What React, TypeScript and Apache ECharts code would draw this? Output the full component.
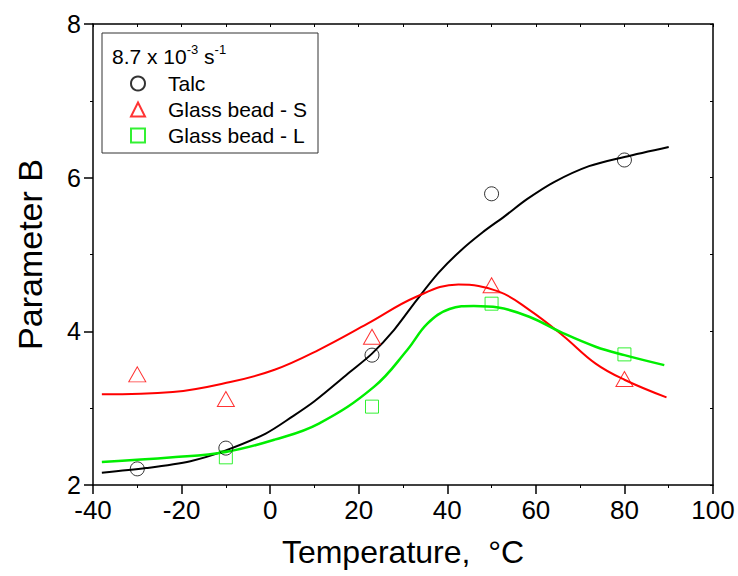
import React, { useEffect, useRef } from "react";
import * as echarts from "echarts";

// Measured points
const talcT = [-30, -10, 23, 50, 80];
const talcB = [2.21, 2.48, 3.69, 5.79, 6.23];
const gbsT = [-30, -10, 23, 50, 80];
const gbsB = [3.44, 3.12, 3.93, 4.6, 3.38];
const gblT = [-10, 23, 50, 80];
const gblB = [2.36, 3.02, 4.36, 3.7];

// Fitted curves
const talcFitT = [-38, -28, -18, -10, -1, 5, 10, 18, 23, 28, 33, 38, 43, 48, 53, 58, 64, 72, 80, 90];
const talcFitB = [2.16, 2.22, 2.31, 2.45, 2.67, 2.89, 3.09, 3.47, 3.71, 4.02, 4.4, 4.76, 5.05, 5.29, 5.5, 5.72, 5.94, 6.15, 6.27, 6.4];
const gbsFitT = [-38, -22, -9, 1, 11, 22, 33, 42.5, 51.5, 58.5, 66, 73.5, 80, 89.5];
const gbsFitB = [3.18, 3.21, 3.34, 3.5, 3.76, 4.1, 4.45, 4.61, 4.52, 4.28, 3.95, 3.58, 3.37, 3.14];
const gblFitT = [-38, -22, -10, 1, 11, 23.5, 31, 35.5, 40.5, 46, 51.5, 58.5, 66, 73.5, 80, 89];
const gblFitB = [2.3, 2.36, 2.43, 2.59, 2.8, 3.28, 3.76, 4.1, 4.29, 4.33, 4.31, 4.19, 3.98, 3.8, 3.69, 3.56];

const seriesNames = ["Talc", "Glass bead - S", "Glass bead - L"];
const xTicks = { min: -40, max: 100, interval: 20 };
const yTicks = { min: 2, max: 8, interval: 2 };

const zip = (a: number[], b: number[]) => a.map((v, i) => [v, b[i]]);

const FONT = "Liberation Sans, Arial, sans-serif";

export default function App() {
  const ref = useRef<HTMLDivElement>(null);
  useEffect(() => {
    if (!ref.current) return;
    const chart = echarts.init(ref.current, null, { renderer: "svg" });
    const black = "#000000";
    const red = "#ff0000";
    const green = "#00ee00";
    chart.setOption({
      animation: false,
      backgroundColor: "#ffffff",
      textStyle: { fontFamily: FONT },
      grid: { left: 93, right: 25, top: 24, bottom: 91, containLabel: false },
      xAxis: [
        {
          type: "value",
          position: "bottom",
          min: xTicks.min,
          max: xTicks.max,
          interval: xTicks.interval,
          name: "Temperature,  \u00B0C",
          nameLocation: "middle",
          nameGap: 51,
          nameTextStyle: { fontSize: 32, color: black, fontFamily: FONT },
          axisLine: { show: true, onZero: false, lineStyle: { color: black, width: 1.5 } },
          axisTick: { show: true, inside: false, length: 9, lineStyle: { color: black, width: 1.5 } },
          minorTick: { show: true, splitNumber: 2, length: 3, lineStyle: { color: black, width: 1 } },
          axisLabel: { fontSize: 26, lineHeight: 24, color: black, margin: 13, fontFamily: FONT },
          splitLine: { show: false },
        },
        {
          type: "value",
          position: "top",
          min: xTicks.min,
          max: xTicks.max,
          interval: 10,
          axisLine: { show: true, onZero: false, lineStyle: { color: black, width: 1.5 } },
          axisTick: { show: true, inside: true, length: 3, lineStyle: { color: black, width: 1 } },
          axisLabel: { show: false },
          splitLine: { show: false },
        },
      ],
      yAxis: [
        {
          type: "value",
          position: "left",
          min: yTicks.min,
          max: yTicks.max,
          interval: yTicks.interval,
          name: "Parameter B",
          nameLocation: "middle",
          nameGap: 46,
          nameTextStyle: { fontSize: 34, color: black, fontFamily: FONT },
          axisLine: { show: true, onZero: false, lineStyle: { color: black, width: 1.5 } },
          axisTick: { show: true, inside: false, length: 9, lineStyle: { color: black, width: 1.5 } },
          minorTick: { show: true, splitNumber: 2, length: 3, lineStyle: { color: black, width: 1 } },
          axisLabel: { fontSize: 25, lineHeight: 20, color: black, margin: 12, fontFamily: FONT },
          splitLine: { show: false },
        },
        {
          type: "value",
          position: "right",
          min: yTicks.min,
          max: yTicks.max,
          interval: 1,
          axisLine: { show: true, onZero: false, lineStyle: { color: black, width: 1.5 } },
          axisTick: { show: true, inside: true, length: 3, lineStyle: { color: black, width: 1 } },
          axisLabel: { show: false },
          splitLine: { show: false },
        },
      ],
      legend: {
        orient: "vertical",
        left: 130,
        top: 73,
        padding: 0,
        itemGap: 5,
        itemWidth: 14,
        itemHeight: 14,
        selectedMode: false,
        data: seriesNames,
        textStyle: { fontSize: 21, color: black, lineHeight: 20, fontFamily: FONT, padding: [0, 0, 0, 18] },
      },
      graphic: [
        {
          type: "rect",
          shape: { x: 102, y: 33, width: 216, height: 120 },
          style: { fill: "none", stroke: "#333333", lineWidth: 1 },
          silent: true,
        },
        {
          type: "text",
          x: 112,
          y: 43,
          style: {
            text: "{b|8.7 x 10}{s|-3}{b| s}{s|-1}",
            fontFamily: FONT,
            fill: black,
            rich: {
              b: { fontSize: 21, lineHeight: 24, verticalAlign: "bottom", fontFamily: FONT, fill: black },
              s: { fontSize: 13, lineHeight: 13, verticalAlign: "top", fontFamily: FONT, fill: black },
            },
          },
          silent: true,
        },
      ],
      series: [
        {
          name: "Talc fit",
          type: "line",
          data: zip(talcFitT, talcFitB),
          smooth: 0.3,
          showSymbol: false,
          symbol: "none",
          lineStyle: { color: black, width: 2 },
          itemStyle: { color: black },
          z: 2,
        },
        {
          name: "Glass bead - S fit",
          type: "line",
          data: zip(gbsFitT, gbsFitB),
          smooth: 0.4,
          showSymbol: false,
          symbol: "none",
          lineStyle: { color: red, width: 2 },
          itemStyle: { color: red },
          z: 2,
        },
        {
          name: "Glass bead - L fit",
          type: "line",
          data: zip(gblFitT, gblFitB),
          smooth: 0.4,
          showSymbol: false,
          symbol: "none",
          lineStyle: { color: green, width: 2.5 },
          itemStyle: { color: green },
          z: 2,
        },
        {
          name: seriesNames[0],
          type: "scatter",
          data: zip(talcT, talcB),
          symbol: "circle",
          symbolSize: 14,
          itemStyle: { color: "transparent", borderColor: black, borderWidth: 1 },
          z: 3,
        },
        {
          name: seriesNames[1],
          type: "scatter",
          data: zip(gbsT, gbsB),
          symbol: "triangle",
          symbolSize: [17, 15],
          itemStyle: { color: "transparent", borderColor: red, borderWidth: 1 },
          z: 3,
        },
        {
          name: seriesNames[2],
          type: "scatter",
          data: zip(gblT, gblB),
          symbol: "rect",
          symbolSize: 13,
          itemStyle: { color: "transparent", borderColor: green, borderWidth: 1 },
          z: 3,
        },
      ],
    });
    return () => chart.dispose();
  }, []);
  return (
    <div
      ref={ref}
      style={{ position: "fixed", left: 0, top: 0, width: 738, height: 576, background: "#fff" }}
    />
  );
}
